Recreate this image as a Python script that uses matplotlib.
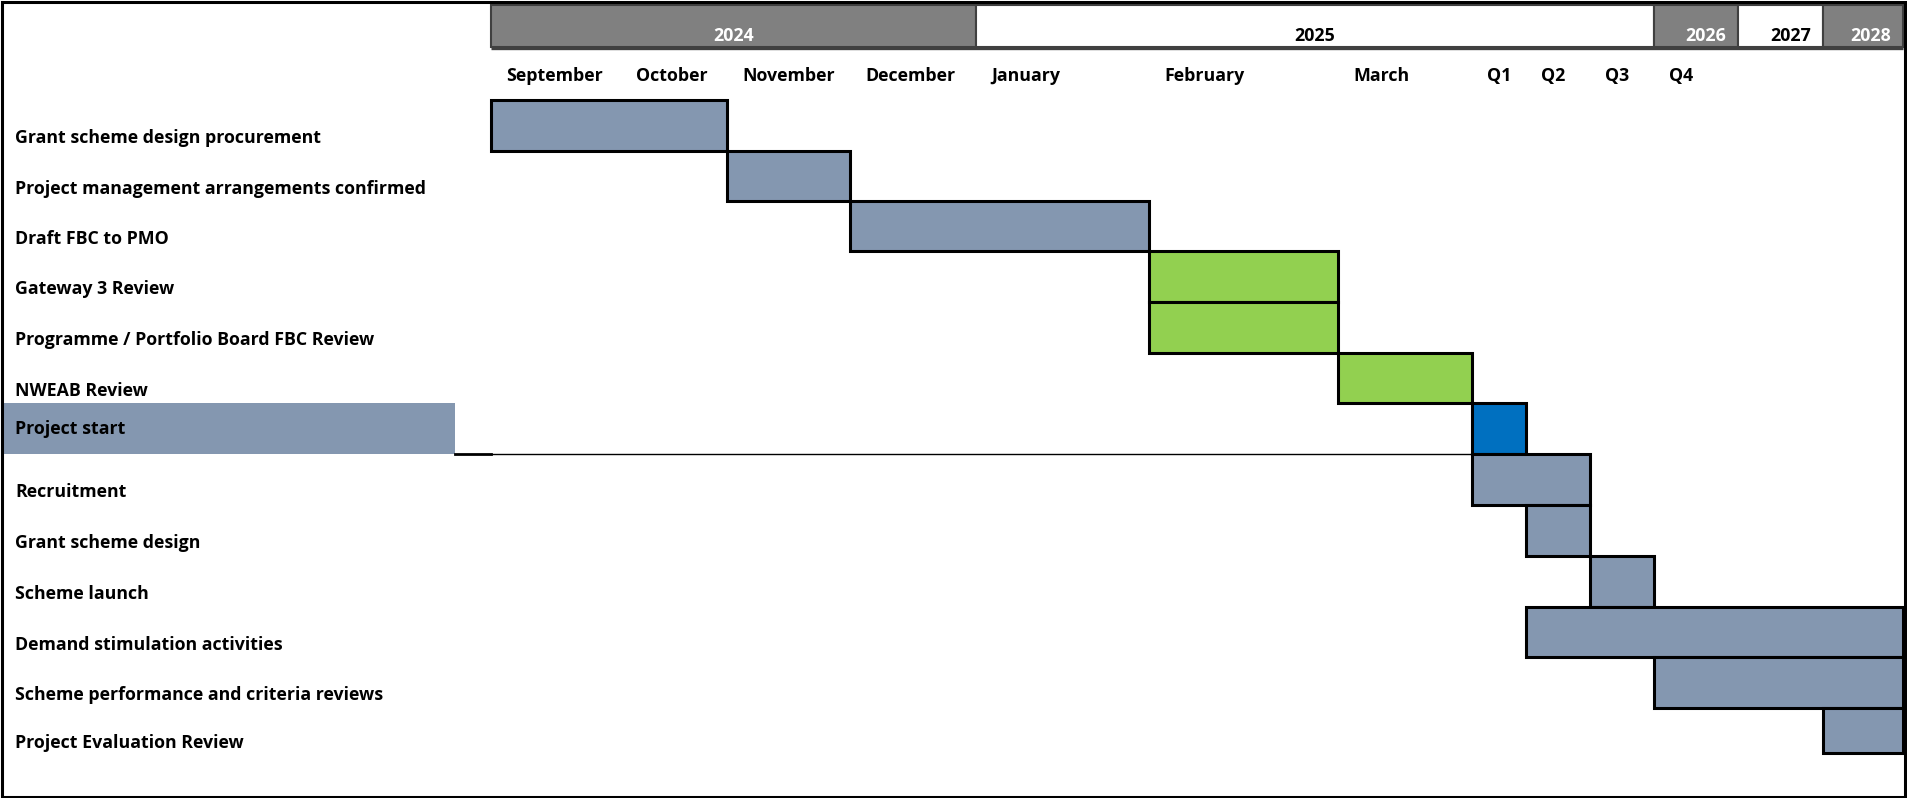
import numpy as np
import matplotlib
matplotlib.use('Agg')
import matplotlib.pyplot as plt
from matplotlib.patches import Rectangle
from matplotlib.transforms import blended_transform_factory, offset_copy

# ---- chart data ----
tasks = ['Grant scheme design procurement',
         'Project management arrangements confirmed',
         'Draft FBC to PMO',
         'Gateway 3 Review',
         'Programme / Portfolio Board FBC Review',
         'NWEAB Review',
         'Project start',
         'Recruitment',
         'Grant scheme design',
         'Scheme launch',
         'Demand stimulation activities',
         'Scheme performance and criteria reviews',
         'Project Evaluation Review']
start_col = [0, 2, 3, 5, 5, 6, 7, 7, 8, 9, 8, 10, 12]
end_col = [2, 3, 5, 6, 6, 7, 8, 9, 9, 10, 13, 13, 13]
stage = ['plan', 'plan', 'plan', 'review', 'review', 'review', 'start',
         'plan', 'plan', 'plan', 'plan', 'plan', 'plan']

periods = ['September', 'October', 'November', 'December', 'January',
           'February', 'March', 'Q1', 'Q2', 'Q3', 'Q4', '', '']
years = ['2024', '2025', '2026', '2027', '2028']
year_start = [0, 4, 10, 11, 12]
year_end = [4, 10, 11, 12, 13]

# ---- layout (spreadsheet-like column / row edges, in pixels) ----
W, H = 1907, 798
col_px = np.array([491, 621, 727, 850, 976, 1149, 1338, 1472, 1526, 1590,
                   1654, 1738, 1823, 1903], dtype=float)
row_px = np.array([100, 151, 201, 251, 302, 353, 403, 454, 505, 556, 607,
                   657, 708, 753], dtype=float)
col_idx = np.arange(len(col_px), dtype=float)
row_idx = np.arange(len(row_px), dtype=float)

colors = {'plan': '#8497B0', 'review': '#92D050', 'start': '#0070C0'}
year_fill = ['#808080', 'white', '#808080', 'white', '#808080']
year_text = ['white', 'black', 'white', 'black', 'white']
font = ['Open Sans', 'DejaVu Sans']
fs = 12.8
lw_box = 2.2

fig = plt.figure(figsize=(W / 100, H / 100), dpi=100)
fig.patch.set_facecolor('white')

bg = fig.add_axes([0, 0, 1, 1])
bg.set_xlim(0, W)
bg.set_ylim(H, 0)
bg.axis('off')

l, t, r, b = col_px[0], row_px[0], col_px[-1], row_px[-1]
ax = fig.add_axes([l / W, 1 - b / H, (r - l) / W, (b - t) / H])
ax.set_xscale('function', functions=(lambda x: np.interp(x, col_idx, col_px),
                                     lambda p: np.interp(p, col_px, col_idx)))
ax.set_yscale('function', functions=(lambda y: np.interp(y, row_idx, row_px),
                                     lambda p: np.interp(p, row_px, row_idx)))
ax.set_xlim(0, col_idx[-1])
ax.set_ylim(row_idx[-1], 0)
ax.axis('off')
ax.patch.set_alpha(0)

# highlighted label cell for "Project start"
hl = tasks.index('Project start')
lab_tr = blended_transform_factory(bg.transData, ax.transData)
bg.add_patch(Rectangle((3, hl), 452, 1, transform=lab_tr,
                       facecolor=colors['plan'], edgecolor='none', zorder=1))

# row separator under Project start
ax.plot([0, start_col[hl]], [hl + 1, hl + 1], color='black', lw=1.0,
        clip_on=False, zorder=2)
bg.plot([455, 491], [454, 454], color='black', lw=2.0, zorder=2)

# bars
for i, task in enumerate(tasks):
    ax.barh(i + 0.5, end_col[i] - start_col[i], left=start_col[i], height=1,
            color=colors[stage[i]], edgecolor='black', linewidth=lw_box,
            zorder=3, clip_on=False)

# task labels
low_tr = offset_copy(lab_tr, fig=fig, x=0, y=-13, units='dots')
hl_tr = offset_copy(lab_tr, fig=fig, x=0, y=-1, units='dots')
for i, task in enumerate(tasks):
    tr = hl_tr if i == hl else low_tr
    bg.text(15, i + 0.5, task, transform=tr, ha='left', va='center',
            fontsize=fs, fontweight='bold', family=font, color='black')

# year header
head_tr = blended_transform_factory(ax.transData, bg.transData)
for k, yr in enumerate(years):
    s, e = year_start[k], year_end[k]
    bg.add_patch(Rectangle((s, 5), e - s, 42, transform=head_tr,
                           facecolor=year_fill[k], edgecolor='#404040',
                           linewidth=1.5, zorder=2, clip_on=False))
    if e - s > 1:
        mid = np.interp((col_px[s] + col_px[e]) / 2, col_px, col_idx)
        bg.text(mid, 36, yr, transform=head_tr, ha='center', va='center',
                fontsize=fs, fontweight='bold', family=font,
                color=year_text[k], zorder=4)
    else:
        tr = offset_copy(head_tr, fig=fig, x=-12, y=0, units='dots')
        bg.text(e, 36, yr, transform=tr, ha='right', va='center',
                fontsize=fs, fontweight='bold', family=font,
                color=year_text[k], zorder=4)
bg.plot([col_px[0], col_px[-1]], [47.5, 47.5], color='#404040', lw=2.4,
        solid_capstyle='butt', zorder=3)

# period labels
per_tr = offset_copy(head_tr, fig=fig, x=15, y=0, units='dots')
for c, lab in enumerate(periods):
    if lab:
        bg.text(c, 76, lab, transform=per_tr, ha='left', va='center',
                fontsize=fs, fontweight='bold', family=font, color='black')

# outer frame
bg.add_patch(Rectangle((1.5, 1.5), W - 4, H - 3, facecolor='none',
                       edgecolor='black', linewidth=lw_box, zorder=5))

fig.savefig('out.png', dpi=100)
